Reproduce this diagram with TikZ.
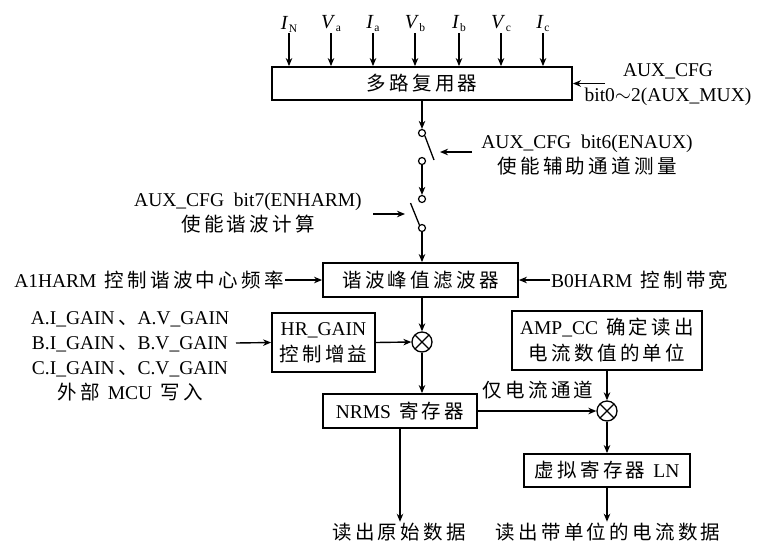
\documentclass[tikz,border=0pt]{standalone}
\usepackage{fontspec}
\setmainfont{Liberation Serif}
\newfontfamily\cjkf{Noto Sans CJK SC}[LetterSpace=17]
\newcommand\zh[1]{{\cjkf #1}}
\newcommand\gap{\hskip 8pt\relax}
\newcommand\myfs{\fontsize{19.5}{25}\selectfont}
\newcommand\sig[2]{{\fontsize{20}{20}\selectfont\textit{#1}}\kern0.5pt\raisebox{-3pt}{\fontsize{11.5}{11.5}\selectfont #2}}
\usetikzlibrary{arrows.meta}
\begin{document}
\begin{tikzpicture}[x=1pt,y=-1pt,
  every node/.style={font=\myfs, inner sep=1pt, align=center},
  box/.style={draw, line width=1.8pt, inner sep=0pt, align=center},
  arr/.style={line width=1.4pt, -{Stealth[length=8pt,width=6.5pt,inset=2.5pt]}},
  ln/.style={line width=1.3pt},
  mult/.style={circle, draw, line width=1.3pt, minimum size=20pt, inner sep=0pt,
    path picture={\draw[line width=1.2pt] (path picture bounding box.north west) -- (path picture bounding box.south east) (path picture bounding box.north east) -- (path picture bounding box.south west);}},
  swc/.style={circle, draw, line width=1.2pt, minimum size=7pt, inner sep=0pt, fill=white}
]
\useasboundingbox (0,0) rectangle (761,542);

% boxes
\node[box, minimum width=300pt, minimum height=33pt] (mux) at (422,83.5) {\zh{多路复用器}};
\node[box, minimum width=195pt, minimum height=34pt] (filter) at (420.5,280) {\zh{谐波峰值滤波器}};
\node[box, minimum width=103pt, minimum height=59pt] (hr) at (323.5,342.5) {HR\_GAIN\\[1pt]\zh{控制增益}};
\node[box, minimum width=154pt, minimum height=34pt] (nrms) at (400,411) {NRMS\gap\zh{寄存器}};
\node[box, minimum width=190pt, minimum height=59pt] (amp) at (607,340.5) {AMP\_CC\gap\zh{确定读出}\\[1pt]\zh{电流数值的单位}};
\node[box, minimum width=166pt, minimum height=33pt] (vreg) at (607,470.5) {\zh{虚拟寄存器}\gap LN};

% multipliers
\node[mult] (m1) at (422,342) {};
\node[mult] (m2) at (607,411) {};

% switch contacts
\node[swc] (s1a) at (422,133) {};
\node[swc] (s1b) at (422,161) {};
\node[swc] (s2a) at (422,199) {};
\node[swc] (s2b) at (422,228) {};
\coordinate (sw1e) at (434,160);
\coordinate (sw2e) at (410.5,203);

% inputs
\foreach \n/\x/\s/\b in {iN/289/I/N, va/331/V/a, ia/373/I/a, vb/415/V/b, ib/459/I/b, vc/501/V/c, ic/543/I/c}{
  \node (\n) at (\x,24) {\sig{\s}{\b}};
  \draw[arr] (\n.south) -- (\n.south |- mux.north);
}

% texts
\node (auxmux) at (668,85) {AUX\_CFG\\bit0$\sim$2(AUX\_MUX)};
\coordinate (auxs) at (605,83.5);
\node (enaux) at (587,155) {AUX\_CFG\ \ bit6(ENAUX)\\\zh{使能辅助通道测量}};
\coordinate (e1s) at (472,152);
\coordinate (e1t) at (440,152);
\node (enharm) at (248,213.5) {AUX\_CFG\ \ bit7(ENHARM)\\\zh{使能谐波计算}};
\coordinate (e2s) at (373,214);
\coordinate (e2t) at (405,214);
\node[anchor=east] (a1) at (285,280) {A1HARM\gap\zh{控制谐波中心频率}};
\node[anchor=west] (b0) at (550,280) {B0HARM\gap\zh{控制带宽}};
\node (gain) at (130,356) {A.I\_GAIN\,\zh{、}A.V\_GAIN\\B.I\_GAIN\,\zh{、}B.V\_GAIN\\C.I\_GAIN\,\zh{、}C.V\_GAIN\\\zh{外部}\gap MCU\gap\zh{写入}};
\coordinate (gs) at (236,343);
\node (cur) at (538,390) {\zh{仅电流通道}};
\node (rd1) at (399,532) {\zh{读出原始数据}};
\node (rd2) at (608,532) {\zh{读出带单位的电流数据}};

% connectors
\draw[arr] (auxs) -- (mux.east);
\draw[arr] (mux.south -| s1a) -- (s1a.north);
\draw[ln] (s1a.-45) -- (sw1e);
\draw[arr] (e1s) -- (e1t);
\draw[arr] (s1b.south) -- (s2a.north);
\draw[ln] (s2b.130) -- (sw2e);
\draw[arr] (e2s) -- (e2t);
\draw[arr] (s2b.south) -- (filter.north -| s2b);
\draw[arr] (a1.east) -- (filter.west);
\draw[arr] (b0.west) -- (filter.east);
\draw[arr] (filter.south -| m1) -- (m1.north);
\draw[arr] (gs) -- (hr.west);
\draw[arr] (hr.east) -- (m1.west);
\draw[arr] (m1.south) -- (m1.south |- nrms.north);
\draw[arr] (nrms.east) -- (m2.west);
\draw[arr] (amp.south) -- (m2.north);
\draw[arr] (m2.south) -- (vreg.north);
\draw[arr] (nrms.south) -- (nrms.south |- rd1.north);
\draw[arr] (vreg.south) -- (vreg.south |- rd2.north);
\end{tikzpicture}
\end{document}
